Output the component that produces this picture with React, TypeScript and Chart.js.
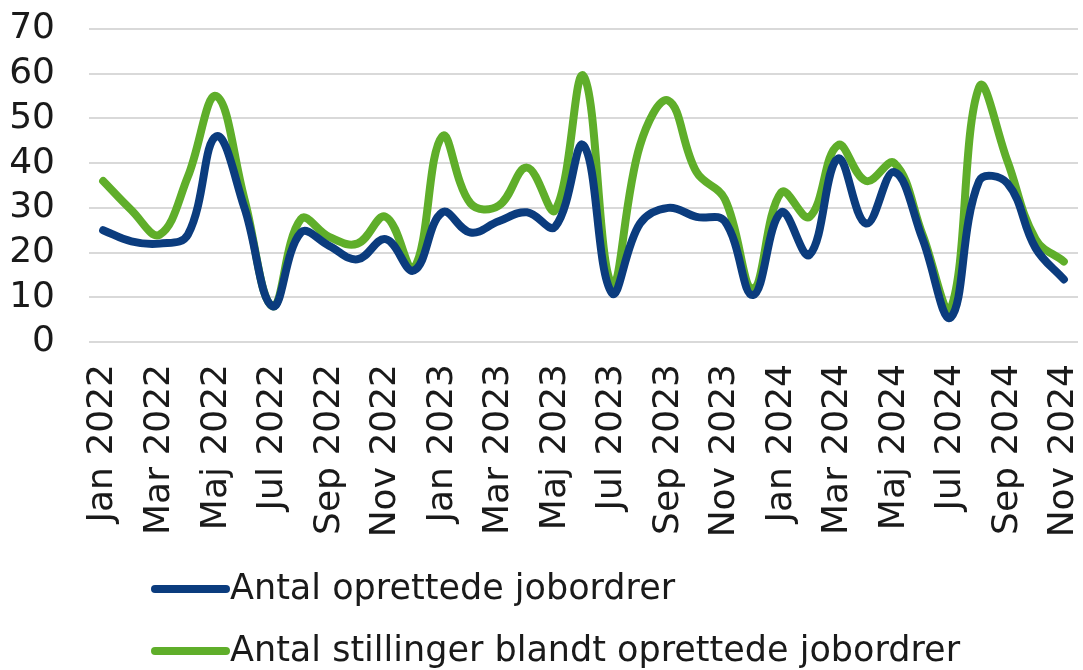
import React, { useEffect, useRef } from "react";
import { Chart, registerables } from "chart.js";

Chart.register(...registerables);

const monthNames = ["Jan", "Feb", "Mar", "Apr", "Maj", "Jun", "Jul", "Aug", "Sep", "Okt", "Nov", "Dec"];
const years = [2022, 2023, 2024];
const categories: string[] = [];
years.forEach((y) => monthNames.forEach((m) => categories.push(`${m} ${y}`)));
const labels = categories.slice(0, 35);

const seriesNames = ["Antal oprettede jobordrer", "Antal stillinger blandt oprettede jobordrer"];

const jobordrer = [25, 22.5, 22, 24, 46, 30, 8, 24.5, 21.5, 18.5, 23, 16, 29, 24.5, 27, 29, 25.8, 44, 11, 26.5, 30, 28, 27, 10.5, 29, 19.5, 41, 26.5, 38, 23, 5.5, 36, 35.5, 21, 14];
const stillinger = [36, 29.5, 24, 37, 55, 32, 8, 27.5, 23.5, 22, 28, 16.5, 46, 31, 30.5, 39, 29.5, 59.5, 13, 44, 54, 38, 32, 12, 33.5, 28, 44, 36, 40, 24, 7.5, 57, 40.5, 23, 18];

const yTicks = [0, 10, 20, 30, 40, 50, 60, 70];

const BLUE = "#0B3C7E";
const GREEN = "#5FAE2A";
const FONT = "'DejaVu Sans', Verdana, sans-serif";

const legendPlugin = {
  id: "customLegend",
  afterDraw(chart: any) {
    const ctx = chart.ctx;
    ctx.save();
    const rows = [589, 651];
    chart.data.datasets.forEach((ds: any, i: number) => {
      const y = rows[i];
      ctx.strokeStyle = ds.borderColor;
      ctx.lineWidth = 8;
      ctx.lineCap = "round";
      ctx.beginPath();
      ctx.moveTo(155, y);
      ctx.lineTo(226, y);
      ctx.stroke();
      ctx.fillStyle = "#1a1a1a";
      ctx.font = `35px ${FONT}`;
      ctx.textBaseline = "middle";
      ctx.textAlign = "left";
      ctx.fillText(ds.label, 230, y + 1);
    });
    ctx.restore();
  },
};

export default function App() {
  const ref = useRef<HTMLCanvasElement | null>(null);
  useEffect(() => {
    if (!ref.current) return;
    const chart = new Chart(ref.current, {
      type: "line",
      data: {
        labels,
        datasets: [
          {
            label: seriesNames[0],
            data: jobordrer,
            borderColor: BLUE,
            backgroundColor: BLUE,
            borderWidth: 8,
            pointRadius: 0,
            tension: 0.4,
            borderCapStyle: "round",
            borderJoinStyle: "round",
          },
          {
            label: seriesNames[1],
            data: stillinger,
            borderColor: GREEN,
            backgroundColor: GREEN,
            borderWidth: 8,
            pointRadius: 0,
            tension: 0.4,
            borderCapStyle: "round",
            borderJoinStyle: "round",
          },
        ],
      },
      options: {
        animation: false,
        responsive: false,
        maintainAspectRatio: false,
        layout: { padding: { top: 29, right: 5, bottom: 128, left: 0 } },
        plugins: { legend: { display: false }, tooltip: { enabled: false } },
        scales: {
          x: {
            offset: true,
            grid: { display: false, drawTicks: false },
            border: { display: false },
            ticks: {
              autoSkip: false,
              maxRotation: 90,
              minRotation: 90,
              padding: 22,
              color: "#1a1a1a",
              font: { family: FONT, size: 36 },
              callback: (_v: any, i: number) => (i % 2 === 0 ? labels[i] : ""),
            },
            afterFit: (s: any) => {
              s.height = 200;
              s.paddingLeft = 0;
              s.paddingRight = 0;
            },
          },
          y: {
            min: 0,
            max: 70,
            afterBuildTicks: (s: any) => {
              s.ticks = yTicks.map((v) => ({ value: v }));
            },
            grid: { color: "#d9d9d9", lineWidth: 2, drawTicks: false },
            border: { display: false },
            ticks: {
              autoSkip: false,
              padding: 34,
              color: "#1a1a1a",
              font: { family: FONT, size: 36 },
            },
            afterFit: (s: any) => {
              s.width = 89;
              s.paddingTop = 0;
              s.paddingBottom = 0;
            },
          },
        },
      },
      plugins: [legendPlugin],
    });
    return () => chart.destroy();
  }, []);
  return (
    <div style={{ position: "absolute", left: 0, top: 0, width: 1083, height: 670, background: "#fff" }}>
      <canvas ref={ref} width={1083} height={670} style={{ display: "block" }} />
    </div>
  );
}
